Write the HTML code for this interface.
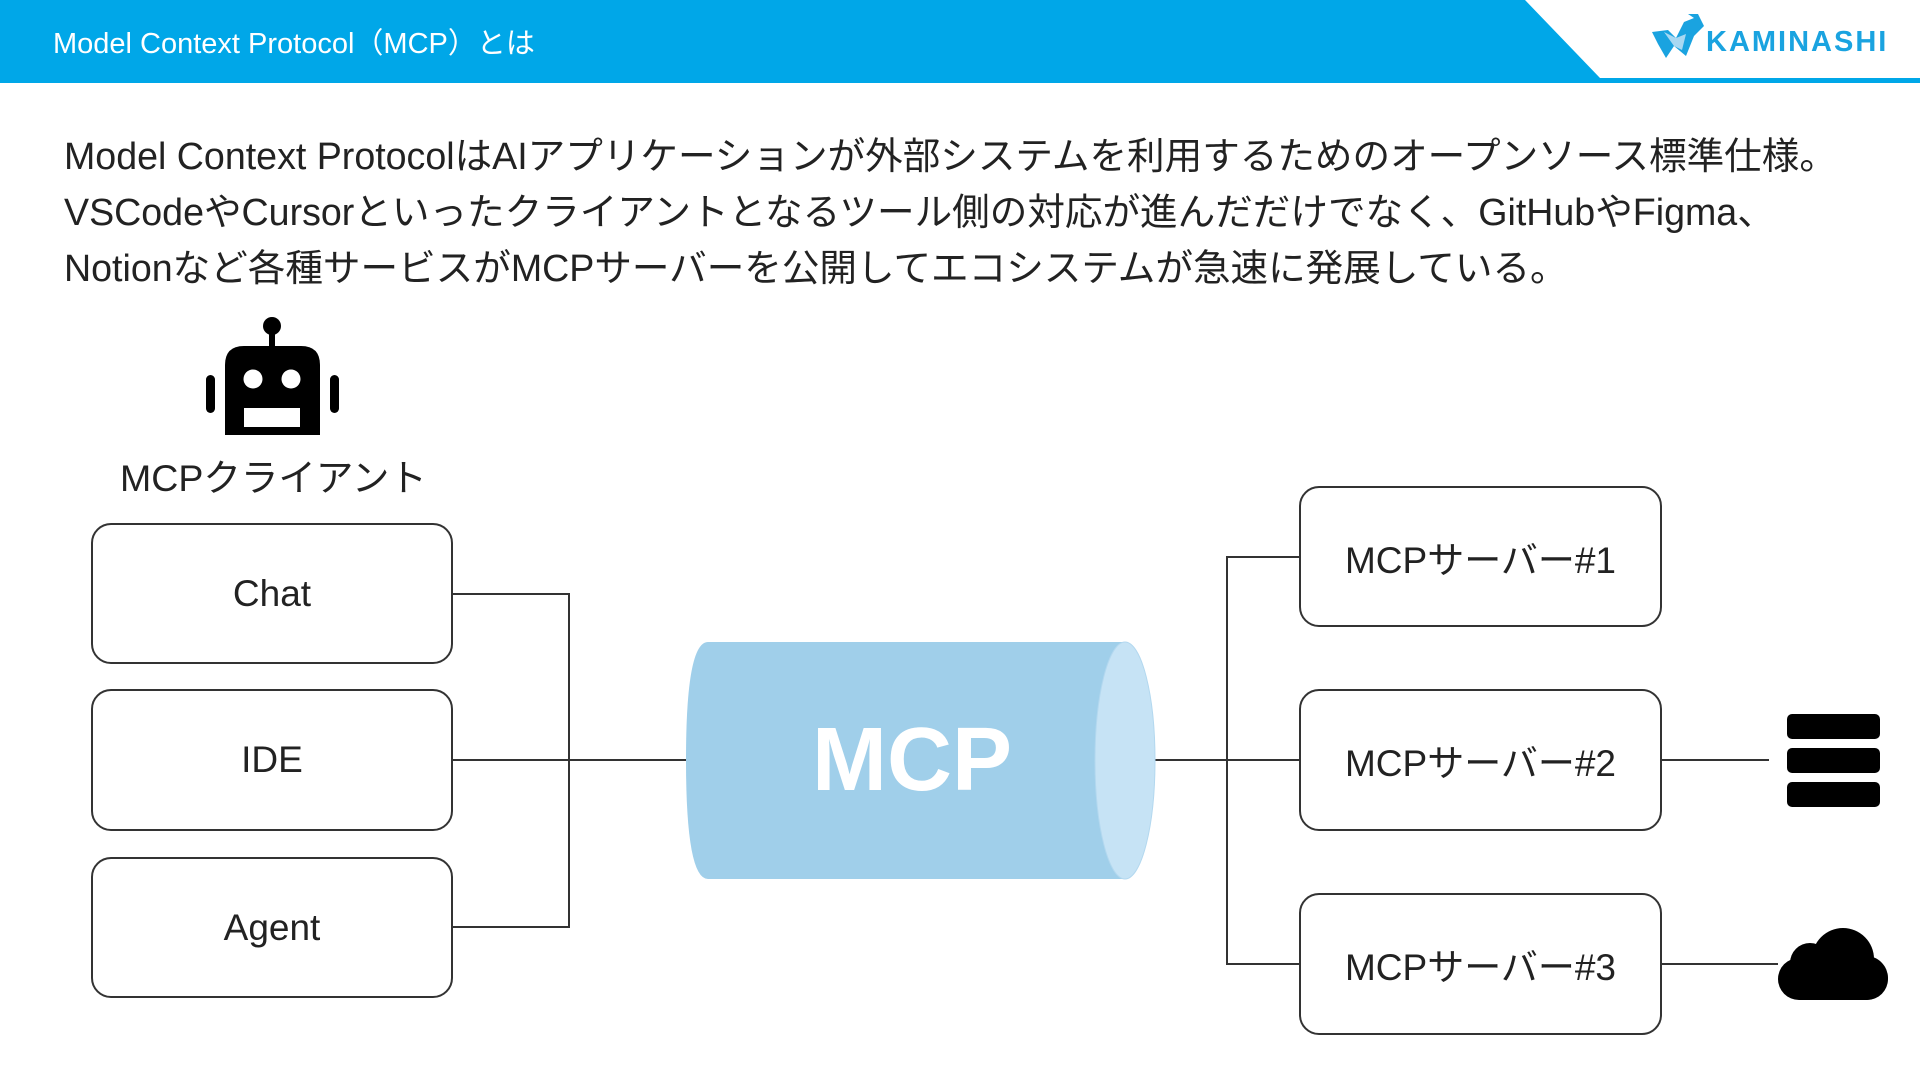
<!DOCTYPE html>
<html><head><meta charset="utf-8"><style>
body{margin:0;width:1920px;height:1080px;background:#fff;overflow:hidden;font-family:"Liberation Sans","Noto Sans CJK JP",sans-serif;color:#222}
.t{position:absolute;white-space:nowrap}
.box{position:absolute;border:2px solid #333;border-radius:20px;box-sizing:border-box;display:flex;align-items:center;justify-content:center;font-size:37px;color:#222;background:#fff}
</style></head><body>
<svg width="1920" height="1080" style="position:absolute;left:0;top:0">
<polygon points="0,0 1525,0 1600,78 0,78" fill="#00a7e8"/>
<rect x="0" y="78" width="1920" height="5" fill="#00a7e8"/>
<!-- logo goat -->
<path d="M1652,32 L1668,30 L1676,38 L1684,22 L1694,18 L1688,14 L1698,14 L1704,26 L1694,36 L1686,56 L1674,46 L1666,58 L1658,44 Z" fill="#1aa3e0"/>
<path d="M1664,32 L1676,38 L1686,34 L1682,50 L1674,46 Z" fill="#a8d8f2"/>
<!-- robot -->
<circle cx="272" cy="326" r="9" fill="#000"/>
<rect x="269" y="330" width="6" height="20" fill="#000"/>
<path d="M225,435 L225,365 Q225,346 244,346 L301,346 Q320,346 320,365 L320,435 Z" fill="#000"/>
<circle cx="253" cy="379" r="9.5" fill="#fff"/>
<circle cx="291" cy="379" r="9.5" fill="#fff"/>
<rect x="244" y="408" width="56" height="19" fill="#fff"/>
<rect x="206" y="375" width="9" height="38" rx="4.5" fill="#000"/>
<rect x="330" y="375" width="9" height="38" rx="4.5" fill="#000"/>
<!-- connectors -->
<g stroke="#333" stroke-width="2" fill="none">
<path d="M453,594 H569 V927 H453"/>
<path d="M453,760 H686"/>
<path d="M1155,760 H1299"/>
<path d="M1299,557 H1227 V964 H1299"/>
<path d="M1662,760 H1769"/>
<path d="M1662,964 H1778"/>
</g>
<!-- cylinder -->
<path d="M708,642 L1125,642 L1125,879 L708,879 Q686,879 686,760 Q686,642 708,642 Z" fill="#a0cfea"/>
<ellipse cx="1125" cy="760.5" rx="30" ry="118.5" fill="#c6e3f5" stroke="#b3d8ef" stroke-width="1"/>
<text x="912" y="790" font-family="Liberation Sans,sans-serif" font-size="90" font-weight="bold" fill="#fff" text-anchor="middle">MCP</text>
<!-- db -->
<rect x="1787" y="714" width="93" height="25" rx="5" fill="#000"/>
<rect x="1787" y="748" width="93" height="25" rx="5" fill="#000"/>
<rect x="1787" y="782" width="93" height="25" rx="5" fill="#000"/>
<!-- cloud -->
<g fill="#000">
<circle cx="1843" cy="959" r="31"/>
<circle cx="1810" cy="963" r="20"/>
<rect x="1778" y="958" width="110" height="42" rx="21"/>
<circle cx="1866" cy="978" r="22"/>
</g>
</svg>
<div class="t" style="left:53px;top:20px;font-size:29px;color:#fff">Model Context Protocol（MCP）とは</div>
<div class="t" style="left:1706px;top:26px;font-size:29px;font-weight:bold;color:#1aa3e0;letter-spacing:2px">KAMINASHI</div>
<div class="t" style="left:64px;top:128px;font-size:37.6px;line-height:56px;color:#222">Model Context ProtocolはAIアプリケーションが外部システムを利用するためのオープンソース標準仕様。<br>VSCodeやCursorといったクライアントとなるツール側の対応が進んだだけでなく、GitHubやFigma、<br>Notionなど各種サービスがMCPサーバーを公開してエコシステムが急速に発展している。</div>
<div class="t" style="left:120px;top:447px;font-size:37.5px;color:#222">MCPクライアント</div>
<div class="box" style="left:91px;top:523px;width:362px;height:141px">Chat</div>
<div class="box" style="left:91px;top:689px;width:362px;height:142px">IDE</div>
<div class="box" style="left:91px;top:857px;width:362px;height:141px">Agent</div>
<div class="box" style="left:1299px;top:486px;width:363px;height:141px">MCPサーバー#1</div>
<div class="box" style="left:1299px;top:689px;width:363px;height:142px">MCPサーバー#2</div>
<div class="box" style="left:1299px;top:893px;width:363px;height:142px">MCPサーバー#3</div>
</body></html>
